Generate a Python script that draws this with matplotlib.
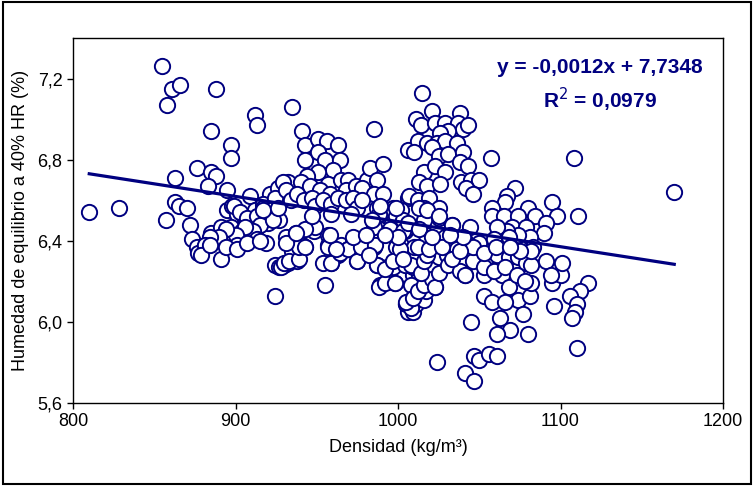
#!/usr/bin/env python3
"""Scatter of equilibrium moisture content vs. density with linear trend."""

import numpy as np
import matplotlib
matplotlib.use("Agg")
import matplotlib.pyplot as plt
from matplotlib.patches import Rectangle
from matplotlib.ticker import FuncFormatter

plt.rcParams['font.family'] = ['Liberation Sans', 'DejaVu Sans']

# density (kg/m3), moisture content (%)
densidad = [
    810, 828, 855, 861, 866, 858, 888, 885, 912, 913, 897, 897, 876, 885, 888,
    883, 863, 895, 863, 865, 870, 857, 872, 909, 921, 895, 898, 901, 905, 910,
    915, 922, 912, 917,
    873, 876, 877, 885, 885, 891, 891, 893, 895, 900, 901, 897, 904, 906, 913,
    915, 922, 924, 924,
    935, 985, 941, 943, 951, 956, 963, 943, 951, 955, 964, 960, 951, 944, 932,
    940, 946, 957, 965, 969, 952, 958, 968, 974, 981, 983, 991, 987, 978, 985,
    991, 1006, 1006, 926, 929, 924, 931, 934, 938, 942, 947, 949, 954, 959, 963,
    968, 972, 975, 978, 991, 997, 987, 899, 903, 907, 913, 917, 922, 927, 920,
    915, 911, 906, 900, 894, 890, 884, 881, 901, 913, 919, 931, 937, 941, 948,
    957, 957, 965, 972, 978, 985, 989, 998, 1002, 1004,
    990, 993, 996, 999, 1002, 1003, 995, 985, 988,
    879, 884, 894, 901, 907, 927, 930, 932, 935, 938, 943, 955, 959, 958, 963,
    969, 975, 973, 978, 985, 987, 993, 997, 1002, 999, 989, 998, 1005, 1006,
    1015, 1011, 1021, 1014, 1023, 1029, 1038, 1037, 1040, 1043, 1031, 1026, 1012,
    1018, 1024, 1029, 1036, 1010, 1021, 1025, 1031, 1040, 1057, 1108, 1016, 1023,
    1029, 1038, 1043, 1013, 1018, 1026, 1039, 1045, 1050, 1042, 1046, 1007, 1012,
    1019, 1072, 1067, 1066, 1058, 1095, 1080, 1111, 1098, 1084, 1058, 1065, 1074,
    1091, 1070, 1079, 1090, 1081, 1074, 1067, 1061, 1044, 1033, 1025, 1016, 1007,
    1003, 1017, 1029, 1041, 1050, 1059, 1068, 1016, 1025,
    1010, 1019, 1025, 1030, 1036, 1039, 1046, 1041, 1053, 1055, 1061, 1064, 1068,
    1074, 1079, 1082, 1091, 1083, 1068, 1074, 1081, 1082, 1053, 1058, 1066, 1095,
    1100, 1117, 1112, 1106, 1110, 1109, 1107, 1096, 1077, 1063, 1069, 1080, 1061,
    1045, 1110, 1047, 1050, 1056, 1061, 1024, 1041, 1047, 1009, 1013, 1005, 1009,
    1011, 1016, 1023, 1017, 1013, 1010, 1009, 1004, 1016, 1082, 1075,
    1008, 1053, 1059, 1066, 1046, 1053, 1060, 1069, 1094, 1073, 1078, 1101,
    1170,
    1008, 1005, 1009, 1012, 1016, 1021, 1023, 988, 992, 998, 987, 992, 997, 1008,
    1014, 1016, 1018, 1025, 1031, 1038, 1041, 928, 930, 933, 939, 954, 959, 964,
    969, 975, 977, 986, 982, 1001, 1003, 1000, 1012, 1019, 1027, 1033, 1038, 939,
    931, 943, 957, 962, 958, 949, 943, 937, 915, 923, 917, 926, 972, 980, 992,
    984, 971, 959, 947, 999, 989, 1013, 1018, 1025, 1033, 1040, 1006, 1013, 1021,
    1032,
]
humedad = [
    6.54, 6.56, 7.26, 7.15, 7.17, 7.07, 7.15, 6.94, 7.02, 6.97, 6.87, 6.81, 6.76,
    6.74, 6.72, 6.67, 6.71, 6.65, 6.59, 6.57, 6.56, 6.50, 6.48, 6.62, 6.63, 6.55,
    6.57, 6.53, 6.52, 6.52, 6.49, 6.50, 6.55, 6.58,
    6.41, 6.37, 6.34, 6.44, 6.39, 6.31, 6.47, 6.40, 6.42, 6.38, 6.41, 6.47, 6.45,
    6.42, 6.41, 6.49, 6.51, 6.28, 6.13,
    7.06, 6.95, 6.94, 6.87, 6.90, 6.89, 6.87, 6.80, 6.84, 6.80, 6.80, 6.75, 6.74,
    6.72, 6.69, 6.69, 6.67, 6.68, 6.70, 6.70, 6.65, 6.63, 6.65, 6.67, 6.70, 6.76,
    6.78, 6.70, 6.66, 6.63, 6.63, 6.85, 6.61, 6.66, 6.69, 6.61, 6.65, 6.60, 6.63,
    6.60, 6.61, 6.57, 6.60, 6.58, 6.61, 6.60, 6.61, 6.56, 6.60, 6.55, 6.56, 6.56,
    6.57, 6.54, 6.51, 6.52, 6.56, 6.55, 6.50, 6.49, 6.48, 6.45, 6.47, 6.43, 6.46,
    6.42, 6.42, 6.38, 6.38, 6.41, 6.39, 6.42, 6.44, 6.38, 6.45, 6.43, 6.38, 6.38,
    6.41, 6.38, 6.38, 6.44, 6.42, 6.38, 6.45,
    6.50, 6.52, 6.49, 6.52, 6.55, 6.50, 6.46, 6.47, 6.53,
    6.33, 6.38, 6.37, 6.36, 6.39, 6.27, 6.28, 6.29, 6.35, 6.30, 6.37, 6.18, 6.29,
    6.37, 6.33, 6.36, 6.30, 6.36, 6.37, 6.37, 6.28, 6.27, 6.27, 6.31, 6.37, 6.18,
    6.19, 6.09, 6.05,
    7.13, 7.00, 7.04, 6.97, 6.98, 6.98, 7.03, 6.98, 6.95, 6.97, 6.94, 6.93, 6.89,
    6.88, 6.88, 6.89, 6.88, 6.84, 6.86, 6.82, 6.83, 6.84, 6.81, 6.81, 6.74, 6.77,
    6.74, 6.79, 6.77, 6.69, 6.67, 6.68, 6.69, 6.70, 6.70, 6.66, 6.63, 6.62, 6.60,
    6.61, 6.66, 6.62, 6.59, 6.56, 6.59, 6.56, 6.52, 6.52, 6.52, 6.52, 6.52, 6.52,
    6.49, 6.47, 6.47, 6.44, 6.42, 6.43, 6.45, 6.47, 6.47, 6.48, 6.51, 6.50, 6.47,
    6.45, 6.43, 6.42, 6.40, 6.39, 6.41, 6.42, 6.56, 6.56,
    6.37, 6.36, 6.32, 6.33, 6.36, 6.30, 6.30, 6.23, 6.23, 6.32, 6.33, 6.23, 6.32,
    6.32, 6.29, 6.28, 6.30, 6.37, 6.17, 6.11, 6.13, 6.19, 6.13, 6.10, 6.10, 6.19,
    6.23, 6.19, 6.15, 6.13, 6.09, 6.05, 6.02, 6.08, 6.04, 6.02, 5.96, 5.94, 5.94,
    6.00, 5.87, 5.83, 5.81, 5.84, 5.83, 5.80, 5.75, 5.71, 6.23, 6.23, 6.09, 6.05,
    6.09, 6.11, 6.17, 6.15, 6.18, 6.13, 6.27, 6.28, 6.20, 6.35, 6.35,
    6.18, 6.27, 6.25, 6.27, 6.37, 6.34, 6.37, 6.37, 6.23, 6.23, 6.20, 6.29,
    6.64,
    6.07, 6.10, 6.12, 6.15, 6.18, 6.21, 6.17, 6.17, 6.19, 6.19, 6.28, 6.26, 6.30,
    6.28, 6.24, 6.30, 6.33, 6.24, 6.28, 6.25, 6.23, 6.27, 6.29, 6.30, 6.31, 6.29,
    6.29, 6.34, 6.36, 6.30, 6.37, 6.38, 6.33, 6.36, 6.31, 6.42, 6.37, 6.36, 6.37,
    6.31, 6.35, 6.37, 6.39, 6.37, 6.37, 6.36, 6.43, 6.47, 6.46, 6.44, 6.40, 6.50,
    6.55, 6.56, 6.42, 6.43, 6.43, 6.50, 6.53, 6.53, 6.52, 6.56, 6.57, 6.56, 6.55,
    6.52, 6.48, 6.42, 6.49, 6.46, 6.42, 6.43,
]

# trend line as printed on the chart
pendiente = -0.00124
ordenada = 7.7348
ecuacion = "y = -0,0012x + 7,7348"
r2_texto = "R$^{2}$ = 0,0979"

x_ticks = [800, 900, 1000, 1100, 1200]
y_ticks = [5.6, 6.0, 6.4, 6.8, 7.2]

navy = "#000080"

fig = plt.figure(figsize=(7.54, 4.86), dpi=100)
ax = fig.add_axes([73 / 754, 1 - 403 / 486, 650 / 754, 365 / 486])

ax.plot(densidad, humedad, linestyle="none", marker="o", markersize=11,
        markerfacecolor="white", markeredgecolor=navy, markeredgewidth=1.4)

xs = np.array([min(densidad), max(densidad)])
ax.plot(xs, pendiente * xs + ordenada, color=navy, linewidth=2.3)

ax.set_xlim(800, 1200)
ax.set_ylim(5.6, 7.4)
ax.set_xticks(x_ticks)
ax.set_yticks(y_ticks)
ax.yaxis.set_major_formatter(FuncFormatter(lambda v, p: f"{v:.1f}".replace(".", ",")))
ax.tick_params(direction="out", length=4, width=1, labelsize=13, colors="black")
for s in ax.spines.values():
    s.set_linewidth(1.0)

ax.set_xlabel("Densidad (kg/m³)", fontsize=13, labelpad=6)
ax.set_ylabel("Humedad de equilibrio a 40% HR (%)", fontsize=13, labelpad=6)

# trendline label, centred lines like the spreadsheet label
ax.text(0.811, 0.92, ecuacion, transform=ax.transAxes, ha="center", va="center",
        fontsize=15, fontweight="bold", color=navy)
ax.text(0.811, 0.83, r2_texto, transform=ax.transAxes, ha="center", va="center",
        fontsize=15, fontweight="bold", color=navy)

# outer chart border
fig.patches.append(Rectangle((0.004, 0.004), 0.992, 0.992, transform=fig.transFigure,
                             fill=False, edgecolor="black", linewidth=1.5))

fig.savefig("out.png", dpi=100)
